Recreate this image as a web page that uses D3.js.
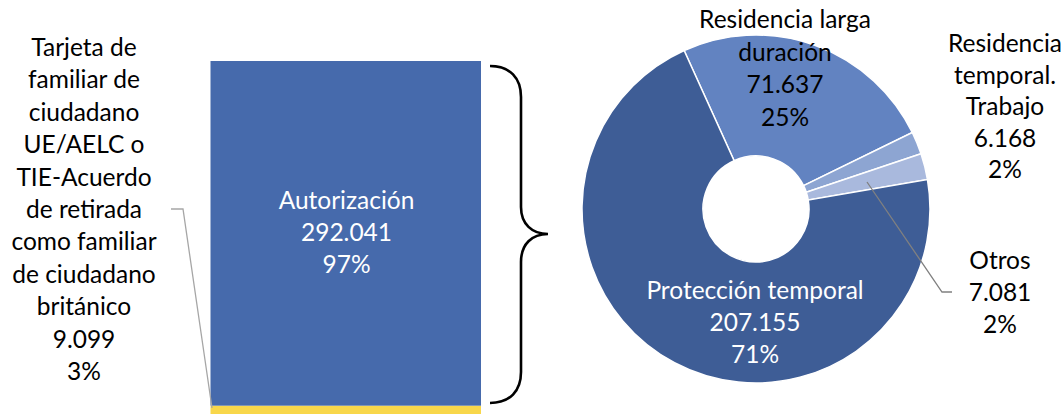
<!DOCTYPE html>
<html>
<head>
<meta charset="utf-8">
<script src="https://cdn.jsdelivr.net/npm/d3@7"></script>
<style>
  body { margin: 0; background: #fff; }
  svg text { font-family: Lato, "Open Sans", sans-serif; font-size: 24.5px; }
</style>
</head>
<body>
<svg id="chart" width="1064" height="414"></svg>
<script>
// Bar data (bottom to top)
const barCategories = ["Tarjeta de familiar de ciudadano UE/AELC o TIE-Acuerdo de retirada como familiar de ciudadano británico", "Autorización"];
const barValues = [9099, 292041];
const barColors = ["#f8d74b", "#466aac"];

// Donut data (clockwise from the top-left)
const donutCategories = ["Residencia larga duración", "Residencia temporal. Trabajo", "Otros", "Protección temporal"];
const donutValues = [71637, 6168, 7081, 207155];
const donutColors = ["#6283c1", "#8da5d2", "#a9b9dd", "#3e5d96"];

const es = d3.formatLocale({decimal: ",", thousands: ".", grouping: [3], currency: ["", "€"]});
const fmt = es.format(",d");
const pct = (v, tot) => Math.round(v / tot * 100) + "%";

const svg = d3.select("#chart");

// ---- stacked bar ----
const barTotal = d3.sum(barValues);
const y = d3.scaleLinear().domain([0, barTotal]).range([416.4, 61]);
const x = d3.scaleBand().domain(["total"]).range([210.5, 481]).padding(0);

let acc = 0;
const stacked = barValues.map((v, i) => {
  const d = {v: v, y0: acc, y1: acc + v, color: barColors[i], name: barCategories[i]};
  acc += v;
  return d;
});

svg.append("g").selectAll("rect")
  .data(stacked)
  .enter()
  .append("rect")
  .attr("x", x("total"))
  .attr("width", x.bandwidth())
  .attr("y", d => y(d.y1))
  .attr("height", d => y(d.y0) - y(d.y1))
  .attr("fill", d => d.color);

// label inside the big segment
const big = stacked[1];
svg.append("text")
  .attr("text-anchor", "middle")
  .attr("fill", "#fff")
  .selectAll("tspan")
  .data(["Autorización", fmt(big.v), pct(big.v, barTotal)])
  .enter().append("tspan")
  .attr("x", 346.5)
  .attr("y", (d, i) => 209 + i * 32)
  .text(d => d);

// label for the small segment, on the left
const small = stacked[0];
const smallLines = ["Tarjeta de", "familiar de", "ciudadano", "UE/AELC o", "TIE-Acuerdo", "de retirada", "como familiar", "de ciudadano", "británico", fmt(small.v), pct(small.v, barTotal)];
svg.append("text")
  .attr("text-anchor", "middle")
  .attr("fill", "#000")
  .selectAll("tspan")
  .data(smallLines)
  .enter().append("tspan")
  .attr("x", 84)
  .attr("y", (d, i) => 56 + i * 32.4)
  .text(d => d);

svg.append("path")
  .attr("d", `M171,209 L183,209 L212,${(y(small.y0) + y(small.y1)) / 2 - 3}`)
  .attr("fill", "none")
  .attr("stroke", "#a6a6a6")
  .attr("stroke-width", 1.3);

// ---- brace ----
svg.append("path")
  .attr("d", "M490,66 C510,66 521,78 521,97 L521,207 C521,224 532,234 548,234 C532,234 521,244 521,262 L521,372 C521,391 510,403 490,403")
  .attr("fill", "none")
  .attr("stroke", "#000")
  .attr("stroke-width", 2.6);

// ---- donut ----
const cx = 756, cy = 209;
const donutTotal = d3.sum(donutValues);
const start = -24.4 * Math.PI / 180;
const pie = d3.pie().sort(null).startAngle(start).endAngle(start + 2 * Math.PI);
const arc = d3.arc().innerRadius(53).outerRadius(174);

const g = svg.append("g").attr("transform", `translate(${cx},${cy})`);
g.selectAll("path")
  .data(pie(donutValues))
  .enter()
  .append("path")
  .attr("d", arc)
  .attr("fill", (d, i) => donutColors[i])
  .attr("stroke", "#fff")
  .attr("stroke-width", 1.5);

const donutLabels = [
  {lines: ["Residencia larga", "duración"], x: 785, y: 28, dy: 32.7, color: "#000"},
  {lines: ["Residencia", "temporal.", "Trabajo"], x: 1005, y: 52, dy: 31.5, color: "#000"},
  {lines: ["Otros"], x: 1000, y: 269, dy: 32, color: "#000"},
  {lines: ["Protección temporal"], x: 755, y: 299, dy: 32, color: "#fff"}
];
donutLabels.forEach((l, i) => {
  const lines = l.lines.concat([fmt(donutValues[i]), pct(donutValues[i], donutTotal)]);
  svg.append("text")
    .attr("text-anchor", "middle")
    .attr("fill", l.color)
    .selectAll("tspan")
    .data(lines)
    .enter().append("tspan")
    .attr("x", l.x)
    .attr("y", (d, j) => l.y + j * l.dy)
    .text(d => d);
});

// leader for "Otros"
svg.append("path")
  .attr("d", "M867,182 L942,292 L952,292")
  .attr("fill", "none")
  .attr("stroke", "#808080")
  .attr("stroke-width", 1.3);
</script>
</body>
</html>
